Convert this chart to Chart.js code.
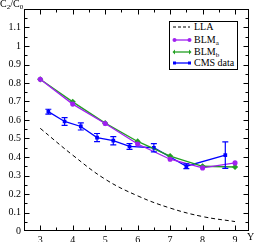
<!DOCTYPE html>
<html>
<head>
<meta charset="utf-8">
<script src="https://cdn.jsdelivr.net/npm/chart.js@4.4.0/dist/chart.umd.min.js"></script>
<style>
  body { margin: 0; background: #fff; }
  #wrap { position: relative; width: 255px; height: 242px; font-family: 'Liberation Serif', serif; }
  #title { position: absolute; left: 0; top: -1px; font-size: 10px; line-height: 10px; }
  #title sub, #legend sub { font-size: 7px; vertical-align: -2px; line-height: 0; }
  #ylab { position: absolute; left: 247px; top: 232px; font-size: 10px; line-height: 10px; }
  #legend { position: absolute; left: 169px; top: 21px; width: 67px; height: 47px; border: 1px solid #000; background: #fff; font-size: 10px; }
  .row { position: absolute; left: 0; height: 10px; line-height: 10px; }
  .row svg { position: absolute; left: 2px; top: 0; }
  .row span { position: absolute; left: 24px; top: 0; white-space: nowrap; }
</style>
</head>
<body>
<div id="wrap">
  <canvas id="my-chart"></canvas>
  <div id="title">C<sub>2</sub>/C<sub>0</sub></div>
  <div id="ylab">Y</div>
  <div id="legend">
    <div class="row" style="top:0px">
      <svg width="20" height="10"><line x1="1" y1="5" x2="18" y2="5" stroke="#000" stroke-width="1" stroke-dasharray="3,2"/></svg>
      <span>LLA</span>
    </div>
    <div class="row" style="top:13px">
      <svg width="20" height="10"><line x1="2" y1="5" x2="18" y2="5" stroke="#a020f0" stroke-width="1.3"/><circle cx="2.5" cy="5" r="2" fill="#a020f0"/><circle cx="17.5" cy="5" r="2" fill="#a020f0"/></svg>
      <span>BLM<sub>a</sub></span>
    </div>
    <div class="row" style="top:25px">
      <svg width="20" height="10"><line x1="2" y1="5" x2="18" y2="5" stroke="#22a022" stroke-width="1.3"/><path d="M0.5 5 L3 2.5 L3 7.5 Z M19.5 5 L17 2.5 L17 7.5 Z" fill="#22a022"/></svg>
      <span>BLM<sub>b</sub></span>
    </div>
    <div class="row" style="top:36px">
      <svg width="20" height="10"><line x1="2" y1="5" x2="18" y2="5" stroke="#0000ff" stroke-width="1.3"/><rect x="1" y="3.5" width="3" height="3" fill="#0000ff"/><rect x="16" y="3.5" width="3" height="3" fill="#0000ff"/></svg>
      <span>CMS data</span>
    </div>
  </div>
</div>
<script>
'use strict';

// ******** DATA *******

// theory curves, evaluated at integer Y
let theoryY = [3, 4, 5, 6, 7, 8, 9];
let llaValues = [0.555, 0.41, 0.28, 0.19, 0.124, 0.078, 0.051];
let blmaValues = [0.82, 0.686, 0.581, 0.47, 0.388, 0.341, 0.368];
let blmbValues = [0.82, 0.698, 0.583, 0.484, 0.405, 0.35, 0.346];

// CMS measurement
let cmsY = [3.25, 3.75, 4.25, 4.75, 5.25, 5.75, 6.5, 7.5, 8.7];
let cmsValues = [0.645, 0.592, 0.565, 0.505, 0.488, 0.457, 0.45, 0.35, 0.41];
let cmsErrors = [0.013, 0.021, 0.019, 0.022, 0.022, 0.016, 0.022, 0.013, 0.072];

// tick labels
let xTicks = [3, 4, 5, 6, 7, 8, 9];
let yTicks = [0, 0.1, 0.2, 0.3, 0.4, 0.5, 0.6, 0.7, 0.8, 0.9, 1, 1.1];

function toPoints(xs, ys) {
  let pts = [];
  for (let i = 0; i < xs.length; i++) {
    pts.push({ x: xs[i], y: ys[i] });
  }
  return pts;
}

Chart.defaults.font.family = "'Liberation Serif', serif";
Chart.defaults.font.size = 10;
Chart.defaults.color = '#000';

// inward ticks + frame, like the original plot
const frameTicks = {
  id: 'frameTicks',
  afterDraw(chart) {
    let c = chart.ctx;
    let a = chart.chartArea;
    let xs = chart.scales.x;
    let ys = chart.scales.y;
    let L = Math.round(a.left) + 0.5;
    let R = Math.round(a.right) - 0.5;
    let T = Math.round(a.top) + 0.5;
    let B = Math.round(a.bottom) - 0.5;
    c.save();
    c.strokeStyle = '#000';
    c.lineWidth = 1;
    c.strokeRect(L, T, R - L, B - T);
    c.beginPath();
    for (let v = 3; v <= 9.01; v += 0.5) {
      let px = Math.round(xs.getPixelForValue(v)) + 0.5;
      let len = Math.abs(v - Math.round(v)) < 0.01 ? 5 : 3;
      c.moveTo(px, B); c.lineTo(px, B - len);
      c.moveTo(px, T); c.lineTo(px, T + len);
    }
    for (let k = 1; k <= 23; k++) {
      let py = Math.round(ys.getPixelForValue(k * 0.05)) + 0.5;
      let len = k % 2 === 0 ? 5 : 3;
      c.moveTo(L, py); c.lineTo(L + len, py);
      c.moveTo(R, py); c.lineTo(R - len, py);
    }
    c.stroke();
    c.restore();
  }
};

// vertical error bars for the CMS points
const errorBars = {
  id: 'errorBars',
  afterDatasetsDraw(chart) {
    let c = chart.ctx;
    let ys = chart.scales.y;
    let meta = chart.getDatasetMeta(3);
    c.save();
    c.strokeStyle = '#0000ff';
    c.lineWidth = 1.2;
    c.beginPath();
    for (let i = 0; i < meta.data.length; i++) {
      let px = meta.data[i].x;
      let top = ys.getPixelForValue(cmsValues[i] + cmsErrors[i]);
      let bot = ys.getPixelForValue(cmsValues[i] - cmsErrors[i]);
      c.moveTo(px, top); c.lineTo(px, bot);
      c.moveTo(px - 3, top); c.lineTo(px + 3, top);
      c.moveTo(px - 3, bot); c.lineTo(px + 3, bot);
    }
    c.stroke();
    c.restore();
  }
};

let ctx = document.getElementById('my-chart');

let chartObject = {
  type: 'line',
  data: {
    datasets: [{
      label: 'LLA',
      data: toPoints(theoryY, llaValues),
      borderColor: '#000',
      borderWidth: 1,
      borderDash: [4, 3],
      pointRadius: 0,
      tension: 0.4
    },
    {
      label: 'BLMa',
      data: toPoints(theoryY, blmaValues),
      borderColor: '#a020f0',
      backgroundColor: '#a020f0',
      borderWidth: 1.3,
      pointRadius: 1.9,
      pointStyle: 'circle'
    },
    {
      label: 'BLMb',
      data: toPoints(theoryY, blmbValues),
      borderColor: '#22a022',
      backgroundColor: '#22a022',
      borderWidth: 1.3,
      pointRadius: 2.2,
      pointStyle: 'rectRot'
    },
    {
      label: 'CMS data',
      data: toPoints(cmsY, cmsValues),
      borderColor: '#0000ff',
      backgroundColor: '#0000ff',
      borderWidth: 1.3,
      pointRadius: 1.7,
      pointStyle: 'rect'
    }]
  },
  options: {
    responsive: true,
    maintainAspectRatio: false,
    animation: false,
    events: [],
    layout: { padding: { top: 5, right: 6, left: 0, bottom: 0 } },
    plugins: {
      legend: { display: false },
      tooltip: { enabled: false }
    },
    scales: {
      x: {
        type: 'linear',
        min: 2.5,
        max: 9.43,
        grid: { display: false, drawTicks: false },
        border: { display: false },
        afterBuildTicks: (s) => { s.ticks = xTicks.map(v => ({ value: v })); },
        afterFit: (s) => { s.height = 11; },
        ticks: { padding: 3, maxRotation: 0, autoSkip: false, callback: (v) => String(v) }
      },
      y: {
        min: 0,
        max: 1.2,
        grid: { display: false, drawTicks: false },
        border: { display: false },
        afterBuildTicks: (s) => { s.ticks = yTicks.map(v => ({ value: v })); },
        afterFit: (s) => { s.width = 24; },
        ticks: { padding: 3, autoSkip: false, callback: (v) => String(Math.round(v * 10) / 10) }
      }
    }
  },
  plugins: [frameTicks, errorBars]
};

const myChart = new Chart(ctx, chartObject);
</script>
</body>
</html>
